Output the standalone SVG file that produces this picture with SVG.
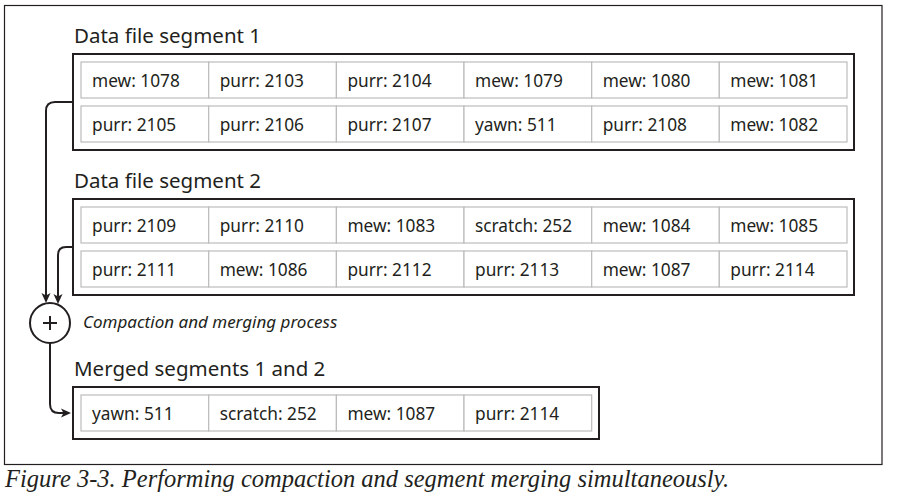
<svg xmlns="http://www.w3.org/2000/svg" width="905" height="501" viewBox="0 0 905 501">
<style>
  .frame{fill:#fff;stroke:#231f20;stroke-width:1.2}
  .seg{fill:#fff;stroke:#231f20;stroke-width:2}
  .cell{fill:#fff;stroke:#bcbcbc;stroke-width:1.2}
  .title{font-family:"Noto Sans","Open Sans","Liberation Sans",sans-serif;font-size:20.5px;fill:#231f20}
  .ct{font-family:"Noto Sans","Open Sans","Liberation Sans",sans-serif;font-size:17.3px;fill:#231f20}
  .lbl{font-family:"Noto Sans","Open Sans","Liberation Sans",sans-serif;font-size:17px;font-style:italic;fill:#231f20}
  .cap{font-family:"Liberation Serif","Times New Roman",serif;font-size:24.5px;font-style:italic;fill:#231f20}
  .conn{fill:none;stroke:#231f20;stroke-width:2}
</style>
<defs>
  <marker id="arr" markerUnits="userSpaceOnUse" markerWidth="10" markerHeight="10" viewBox="0 0 10 10" refX="8" refY="5" orient="auto">
    <path d="M0,0.5 L10,5 L0,9.5 L2.5,5 z" fill="#231f20"/>
  </marker>
</defs>
<rect width="905" height="501" fill="#fff"/>
<rect class="frame" x="4.5" y="5.5" width="877.5" height="459"/>

<g id="segment1">
  <text class="title" x="74" y="43">Data file segment 1</text>
  <rect class="seg" x="73" y="54" width="781" height="96"/>
  <g>
    <rect class="cell" x="81" y="62" width="127.7" height="36"/>
    <rect class="cell" x="208.7" y="62" width="127.7" height="36"/>
    <rect class="cell" x="336.4" y="62" width="127.6" height="36"/>
    <rect class="cell" x="464" y="62" width="127.7" height="36"/>
    <rect class="cell" x="591.7" y="62" width="127.6" height="36"/>
    <rect class="cell" x="719.3" y="62" width="127.7" height="36"/>
    <rect class="cell" x="81" y="106" width="127.7" height="36"/>
    <rect class="cell" x="208.7" y="106" width="127.7" height="36"/>
    <rect class="cell" x="336.4" y="106" width="127.6" height="36"/>
    <rect class="cell" x="464" y="106" width="127.7" height="36"/>
    <rect class="cell" x="591.7" y="106" width="127.6" height="36"/>
    <rect class="cell" x="719.3" y="106" width="127.7" height="36"/>
  </g>
  <text class="ct" x="92" y="86.5">mew: 1078</text>
  <text class="ct" x="219.7" y="86.5">purr: 2103</text>
  <text class="ct" x="347.4" y="86.5">purr: 2104</text>
  <text class="ct" x="475" y="86.5">mew: 1079</text>
  <text class="ct" x="602.7" y="86.5">mew: 1080</text>
  <text class="ct" x="730.3" y="86.5">mew: 1081</text>
  <text class="ct" x="92" y="130.5">purr: 2105</text>
  <text class="ct" x="219.7" y="130.5">purr: 2106</text>
  <text class="ct" x="347.4" y="130.5">purr: 2107</text>
  <text class="ct" x="475" y="130.5">yawn: 511</text>
  <text class="ct" x="602.7" y="130.5">purr: 2108</text>
  <text class="ct" x="730.3" y="130.5">mew: 1082</text>
</g>

<g id="segment2">
  <text class="title" x="74" y="188">Data file segment 2</text>
  <rect class="seg" x="73" y="199" width="781" height="96"/>
  <g>
    <rect class="cell" x="81" y="207" width="127.7" height="36"/>
    <rect class="cell" x="208.7" y="207" width="127.7" height="36"/>
    <rect class="cell" x="336.4" y="207" width="127.6" height="36"/>
    <rect class="cell" x="464" y="207" width="127.7" height="36"/>
    <rect class="cell" x="591.7" y="207" width="127.6" height="36"/>
    <rect class="cell" x="719.3" y="207" width="127.7" height="36"/>
    <rect class="cell" x="81" y="251" width="127.7" height="36"/>
    <rect class="cell" x="208.7" y="251" width="127.7" height="36"/>
    <rect class="cell" x="336.4" y="251" width="127.6" height="36"/>
    <rect class="cell" x="464" y="251" width="127.7" height="36"/>
    <rect class="cell" x="591.7" y="251" width="127.6" height="36"/>
    <rect class="cell" x="719.3" y="251" width="127.7" height="36"/>
  </g>
  <text class="ct" x="92" y="231.5">purr: 2109</text>
  <text class="ct" x="219.7" y="231.5">purr: 2110</text>
  <text class="ct" x="347.4" y="231.5">mew: 1083</text>
  <text class="ct" x="475" y="231.5">scratch: 252</text>
  <text class="ct" x="602.7" y="231.5">mew: 1084</text>
  <text class="ct" x="730.3" y="231.5">mew: 1085</text>
  <text class="ct" x="92" y="275.5">purr: 2111</text>
  <text class="ct" x="219.7" y="275.5">mew: 1086</text>
  <text class="ct" x="347.4" y="275.5">purr: 2112</text>
  <text class="ct" x="475" y="275.5">purr: 2113</text>
  <text class="ct" x="602.7" y="275.5">mew: 1087</text>
  <text class="ct" x="730.3" y="275.5">purr: 2114</text>
</g>

<g id="merge">
  <circle cx="50" cy="323" r="20" fill="#fff" stroke="#231f20" stroke-width="2"/>
  <path d="M43,323 H57 M50,316 V330" stroke="#231f20" stroke-width="2" fill="none"/>
  <text class="lbl" x="83" y="328">Compaction and merging process</text>
</g>

<g id="merged">
  <text class="title" x="74" y="376">Merged segments 1 and 2</text>
  <rect class="seg" x="73" y="387" width="526" height="52"/>
  <rect class="cell" x="81" y="395" width="127.7" height="36"/>
  <rect class="cell" x="208.7" y="395" width="127.7" height="36"/>
  <rect class="cell" x="336.4" y="395" width="127.6" height="36"/>
  <rect class="cell" x="464" y="395" width="127.7" height="36"/>
  <text class="ct" x="92" y="419.5">yawn: 511</text>
  <text class="ct" x="219.7" y="419.5">scratch: 252</text>
  <text class="ct" x="347.4" y="419.5">mew: 1087</text>
  <text class="ct" x="475" y="419.5">purr: 2114</text>
</g>

<g id="connectors">
  <path class="conn" d="M73,102 H55 Q46,102 46,111 V301" marker-end="url(#arr)"/>
  <path class="conn" d="M73,247 H66 Q58,247 58,255 V302" marker-end="url(#arr)"/>
  <path class="conn" d="M50,343 V404 Q50,413 59,413 H69" marker-end="url(#arr)"/>
</g>

<text class="cap" x="5" y="487">Figure 3-3. Performing compaction and segment merging simultaneously.</text>
</svg>
